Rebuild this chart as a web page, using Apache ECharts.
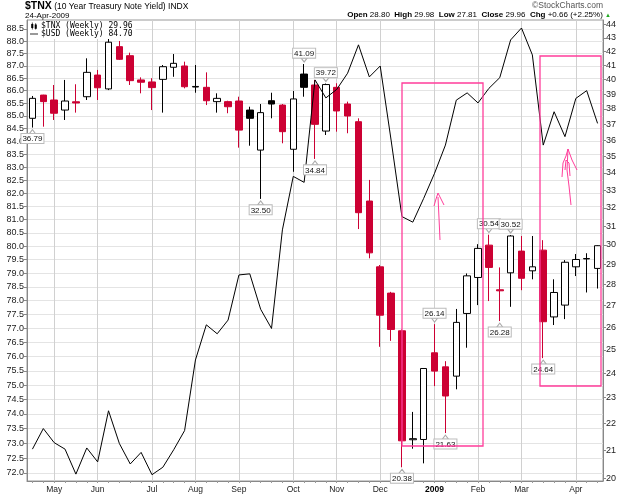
<!DOCTYPE html>
<html>
<head>
<meta charset="utf-8">
<script src="https://cdn.jsdelivr.net/npm/echarts@6.0.0/dist/echarts.min.js"></script>
<style>
  html, body { margin: 0; padding: 0; background: #fff; }
  #container { width: 625px; height: 495px; }
</style>
</head>
<body>
<div id="container"></div>
<script>
// weekly bars (week start dates)
var dates = [
  '2008-04-21', '2008-04-28', '2008-05-05', '2008-05-12', '2008-05-19', '2008-05-26',
  '2008-06-02', '2008-06-09', '2008-06-16', '2008-06-23', '2008-06-30', '2008-07-07',
  '2008-07-14', '2008-07-21', '2008-07-28', '2008-08-04', '2008-08-11', '2008-08-18',
  '2008-08-25', '2008-09-01', '2008-09-08', '2008-09-15', '2008-09-22', '2008-09-29',
  '2008-10-06', '2008-10-13', '2008-10-20', '2008-10-27', '2008-11-03', '2008-11-10',
  '2008-11-17', '2008-11-24', '2008-12-01', '2008-12-08', '2008-12-15', '2008-12-22',
  '2008-12-29', '2009-01-05', '2009-01-12', '2009-01-19', '2009-01-26', '2009-02-02',
  '2009-02-09', '2009-02-16', '2009-02-23', '2009-03-02', '2009-03-09', '2009-03-16',
  '2009-03-23', '2009-03-30', '2009-04-06', '2009-04-13', '2009-04-20'
];

// $TNX weekly OHLC
var tnxOpen = [
  37.39, 38.93, 38.60, 37.93, 38.48, 38.82, 40.31, 39.35, 42.35, 41.69, 39.97, 39.83,
  40.01, 40.86, 40.95, 39.48, 39.46, 38.49, 38.49, 38.53, 37.93, 35.38, 38.55, 38.26,
  35.43, 40.38, 39.62, 36.57, 39.46, 38.33, 37.17, 32.38, 28.88, 27.59, 25.84, 21.38,
  21.39, 24.87, 24.27, 23.88, 26.63, 28.35, 29.99, 27.75, 28.58, 29.68, 28.68, 29.73,
  26.47, 27.02, 28.88, 29.28, 28.80
];
var tnxClose = [
  38.71, 38.49, 37.72, 38.53, 38.40, 40.50, 39.43, 42.68, 41.43, 39.92, 39.81, 39.44,
  40.90, 41.14, 39.50, 39.52, 38.55, 38.71, 38.15, 36.63, 37.39, 37.76, 38.33, 36.53,
  38.67, 39.46, 37.00, 39.65, 37.87, 37.54, 31.73, 29.59, 26.55, 25.90, 21.34, 21.42,
  24.20, 24.09, 23.07, 26.22, 28.43, 29.82, 28.85, 27.70, 30.47, 28.31, 28.88, 26.25,
  27.62, 29.11, 29.25, 29.30, 29.96
];
var tnxLow = [
  36.79, 36.85, 37.28, 37.28, 37.76, 38.60, 38.60, 39.27, 41.38, 39.62, 39.05, 37.93,
  37.76, 40.19, 39.39, 39.09, 38.26, 37.76, 37.72, 35.53, 35.65, 32.50, 37.39, 35.80,
  34.07, 38.82, 34.84, 36.32, 36.53, 36.43, 30.84, 29.31, 25.13, 25.39, 20.38, 21.05,
  20.52, 23.47, 21.63, 23.34, 25.09, 27.02, 27.21, 26.28, 26.94, 27.73, 28.26, 24.64,
  26.10, 26.37, 28.42, 27.62, 27.81
];
var tnxHigh = [
  38.87, 38.95, 39.62, 39.97, 39.67, 41.50, 40.67, 43.09, 42.77, 41.91, 40.15, 40.09,
  41.02, 41.81, 41.26, 41.02, 40.50, 39.05, 38.55, 38.82, 38.15, 38.33, 39.09, 38.33,
  39.21, 41.09, 39.97, 39.72, 39.74, 38.49, 37.39, 33.59, 28.97, 27.65, 25.90, 22.44,
  24.22, 26.14, 24.51, 26.84, 28.55, 30.04, 30.54, 28.85, 30.52, 30.47, 30.47, 30.25,
  28.26, 29.22, 29.53, 29.57, 29.98
];

// $USD weekly close
var usd = [
  72.80, 73.50, 73.02, 72.80, 71.96, 72.84, 72.37, 74.11, 72.99, 72.30, 72.69, 71.94,
  72.19, 72.78, 73.43, 75.88, 77.13, 76.81, 77.30, 78.94, 78.98, 77.69, 77.00, 80.61,
  82.64, 82.41, 86.43, 85.71, 86.05, 86.70, 87.85, 86.55, 86.99, 84.05, 81.11, 80.90,
  81.80, 82.76, 83.85, 85.62, 85.91, 85.51, 86.09, 86.52, 88.05, 88.54, 87.44, 83.85,
  85.16, 84.18, 85.69, 86.00, 84.70
];

// annotated highs / lows: [bar index, 'high' | 'low']
var tnxMarks = [
  [0, 'low'], [21, 'low'], [25, 'high'], [26, 'low'], [27, 'high'], [34, 'low'],
  [37, 'high'], [38, 'low'], [42, 'high'], [43, 'low'], [44, 'high'], [47, 'low']
];

var usdTicks = [
  72.0, 72.5, 73.0, 73.5, 74.0, 74.5, 75.0, 75.5, 76.0, 76.5, 77.0, 77.5,
  78.0, 78.5, 79.0, 79.5, 80.0, 80.5, 81.0, 81.5, 82.0, 82.5, 83.0, 83.5,
  84.0, 84.5, 85.0, 85.5, 86.0, 86.5, 87.0, 87.5, 88.0, 88.5
];
var tnxTicks = [
  20, 21, 22, 23, 24, 25, 26, 27, 28, 29, 30, 31, 32,
  33, 34, 35, 36, 37, 38, 39, 40, 41, 42, 43, 44
];
var monthNames = ['Jan', 'Feb', 'Mar', 'Apr', 'May', 'Jun', 'Jul', 'Aug', 'Sep', 'Oct', 'Nov', 'Dec'];

var RED = '#cc0033';
var PINK = '#ff3d9a';
var FONT = 'Liberation Sans';

var dom = document.getElementById('container');
var myChart = echarts.init(dom, null, { renderer: 'canvas' });

function isMonthStart(i) {
  return i > 0 && dates[i].slice(5, 7) !== dates[i - 1].slice(5, 7);
}

// StockCharts colouring: hollow when close > open, black/red vs previous close
var candles = dates.map(function (d, i) {
  var prev = i > 0 ? tnxClose[i - 1] : tnxOpen[i];
  var col = tnxClose[i] >= prev ? '#000000' : RED;
  var fill = tnxClose[i] > tnxOpen[i] ? '#ffffff' : col;
  return {
    value: [tnxOpen[i], tnxClose[i], tnxLow[i], tnxHigh[i]],
    itemStyle: { color: fill, color0: fill, borderColor: col, borderColor0: col }
  };
});

var markData = tnxMarks.map(function (m) {
  var i = m[0];
  var isHigh = m[1] === 'high';
  var v = isHigh ? tnxHigh[i] : tnxLow[i];
  return {
    coord: [dates[i], v],
    value: v.toFixed(2),
    symbolRotate: isHigh ? 180 : 0,
    symbolOffset: [0, isHigh ? -4 : 4],
    label: { position: isHigh ? 'top' : 'bottom' }
  };
});

var n = dates.length;
var last = n - 1;
var chg = tnxClose[last] - tnxClose[last - 1];
var chgPct = chg / tnxClose[last - 1] * 100;
var sign = chg >= 0 ? '+' : '-';

var option = {
  animation: false,
  backgroundColor: '#ffffff',
  title: [
    {
      text: '{b|$TNX} (10 Year Treasury Note Yield) INDX',
      left: 25, top: 1, padding: 0,
      textStyle: {
        fontFamily: FONT, fontSize: 8.5, fontWeight: 'normal', color: '#000',
        rich: { b: { fontFamily: FONT, fontSize: 10.5, fontWeight: 'bold', color: '#000' } }
      }
    },
    {
      text: '24-Apr-2009',
      left: 25, top: 12, padding: 0,
      textStyle: { fontFamily: FONT, fontSize: 8, fontWeight: 'normal', color: '#000' }
    },
    {
      text: '\u00a9StockCharts.com',
      right: 22, top: 1, padding: 0,
      textStyle: { fontFamily: FONT, fontSize: 8.5, fontWeight: 'normal', color: '#555' }
    },
    {
      text: '{b|Open} ' + tnxOpen[last].toFixed(2) +
        '  {b|High} ' + tnxHigh[last].toFixed(2) +
        '  {b|Low} ' + tnxLow[last].toFixed(2) +
        '  {b|Close} ' + tnxClose[last].toFixed(2) +
        '  {b|Chg} ' + sign + Math.abs(chg).toFixed(2) +
        ' (' + sign + Math.abs(chgPct).toFixed(2) + '%) {g|\u25b2}',
      right: 14, top: 11, padding: 0,
      textStyle: {
        fontFamily: FONT, fontSize: 8, fontWeight: 'normal', color: '#000',
        rich: {
          b: { fontFamily: FONT, fontSize: 8, fontWeight: 'bold', color: '#000' },
          g: { fontSize: 6, color: '#22aa22' }
        }
      }
    }
  ],
  legend: {
    left: 28, top: 21,
    orient: 'vertical',
    selectedMode: false,
    backgroundColor: '#ffffff',
    padding: [1, 3, 1, 2],
    itemGap: 0,
    itemWidth: 8,
    itemHeight: 7,
    textStyle: { fontFamily: 'DejaVu Sans Mono', fontSize: 8, color: '#000', padding: [0, 0, 0, -2] },
    data: [
      { name: '$TNX (Weekly)', icon: 'path://M1,0 L2,0 L2,2 L3,2 L3,8 L2,8 L2,10 L1,10 L1,8 L0,8 L0,2 L1,2 Z M6,1 L7,1 L7,3 L8,3 L8,9 L7,9 L7,10 L6,10 L6,9 L5,9 L5,3 L6,3 Z',
        itemStyle: { color: '#000', borderWidth: 0 } },
      { name: '$USD (Weekly)', icon: 'path://M0,5 L10,5 L10,6 L0,6 Z', itemStyle: { color: '#000' } }
    ],
    formatter: function (name) {
      var v = name.indexOf('TNX') >= 0 ? tnxClose[last] : usd[last];
      return name + ' ' + v.toFixed(2);
    }
  },
  grid: {
    left: 27, right: 22, top: 20, bottom: 14,
    show: true, borderColor: '#999', borderWidth: 1
  },
  xAxis: {
    type: 'category',
    data: dates,
    boundaryGap: true,
    axisLine: { lineStyle: { color: '#888' } },
    axisTick: { show: true, interval: 0, alignWithLabel: true, length: 2, lineStyle: { color: '#999' } },
    axisLabel: {
      interval: function (i) { return isMonthStart(i); },
      formatter: function (value) {
        var m = +value.slice(5, 7);
        return m === 1 ? '{y|' + value.slice(0, 4) + '}' : monthNames[m - 1];
      },
      fontFamily: FONT, fontSize: 8.5, color: '#222', margin: 4,
      rich: { y: { fontFamily: FONT, fontSize: 8.5, fontWeight: 'bold', color: '#000' } }
    },
    splitLine: {
      show: true,
      alignWithLabel: true,
      interval: function (i) { return isMonthStart(i); },
      lineStyle: { color: '#d0d0d0', width: 1 }
    }
  },
  yAxis: [
    {
      type: 'log',
      position: 'left',
      min: 71.73, max: 88.87,
      axisLine: { show: true, lineStyle: { color: '#888' } },
      axisTick: { show: true, length: 3, customValues: usdTicks, lineStyle: { color: '#888' } },
      axisLabel: {
        customValues: usdTicks,
        formatter: function (v) { return Number(v).toFixed(1); },
        fontFamily: FONT, fontSize: 9, color: '#222', margin: 3
      },
      splitLine: { show: true, lineStyle: { color: '#e4e4e4', width: 1 } },
      minorTick: { show: false },
      minorSplitLine: { show: false }
    },
    {
      type: 'log',
      position: 'right',
      min: 19.90, max: 44.36,
      axisLine: { show: true, lineStyle: { color: '#888' } },
      axisTick: { show: true, length: 3, customValues: tnxTicks, lineStyle: { color: '#888' } },
      axisLabel: {
        customValues: tnxTicks,
        formatter: function (v) { return String(Math.round(v)); },
        fontFamily: FONT, fontSize: 9, color: '#222', margin: 3
      },
      splitLine: { show: false }
    }
  ],
  series: [
    {
      name: '$TNX (Weekly)',
      type: 'candlestick',
      yAxisIndex: 1,
      barWidth: 7,
      z: 2,
      itemStyle: { borderWidth: 1 },
      data: candles,
      markPoint: {
        symbol: 'triangle',
        symbolSize: [6, 4],
        itemStyle: { color: '#ffffff', borderColor: '#aaaaaa', borderWidth: 1 },
        label: {
          show: true,
          formatter: '{c}',
          distance: 0,
          fontFamily: FONT, fontSize: 8, color: '#111',
          backgroundColor: '#ffffff',
          borderColor: '#bbbbbb', borderWidth: 1,
          padding: [1, 1, 0, 1]
        },
        data: markData
      }
    },
    {
      name: '$USD (Weekly)',
      type: 'line',
      yAxisIndex: 0,
      data: usd,
      symbol: 'none',
      z: 3,
      lineStyle: { color: '#000000', width: 1 }
    }
  ],
  graphic: [
    { type: 'rect', z: 10, shape: { x: 402, y: 83, width: 81, height: 363 },
      style: { fill: 'none', stroke: PINK, lineWidth: 1.3 } },
    { type: 'rect', z: 10, shape: { x: 540, y: 56, width: 61, height: 330 },
      style: { fill: 'none', stroke: PINK, lineWidth: 1.3 } },
    { type: 'polyline', z: 10, shape: { points: [[438, 197], [439, 218], [440, 240]] },
      style: { fill: 'none', stroke: PINK, lineWidth: 1 } },
    { type: 'polyline', z: 10, shape: { points: [[434, 206], [436, 199], [438, 193], [441, 199], [444, 205]] },
      style: { fill: 'none', stroke: PINK, lineWidth: 1 } },
    { type: 'polyline', z: 10, shape: { points: [[568, 149], [567, 170], [569, 186], [571, 205]] },
      style: { fill: 'none', stroke: PINK, lineWidth: 1 } },
    { type: 'polyline', z: 10, shape: { points: [[562, 177], [563, 163], [566, 156], [568, 149]] },
      style: { fill: 'none', stroke: PINK, lineWidth: 1 } },
    { type: 'polyline', z: 10, shape: { points: [[568, 149], [572, 160], [577, 170]] },
      style: { fill: 'none', stroke: PINK, lineWidth: 1 } },
    { type: 'polyline', z: 10, shape: { points: [[565, 170], [566, 160], [569, 163], [570, 176]] },
      style: { fill: 'none', stroke: PINK, lineWidth: 1 } }
  ]
};

if (option && typeof option === 'object') {
  myChart.setOption(option);
}

window.addEventListener('resize', myChart.resize);
</script>
</body>
</html>
